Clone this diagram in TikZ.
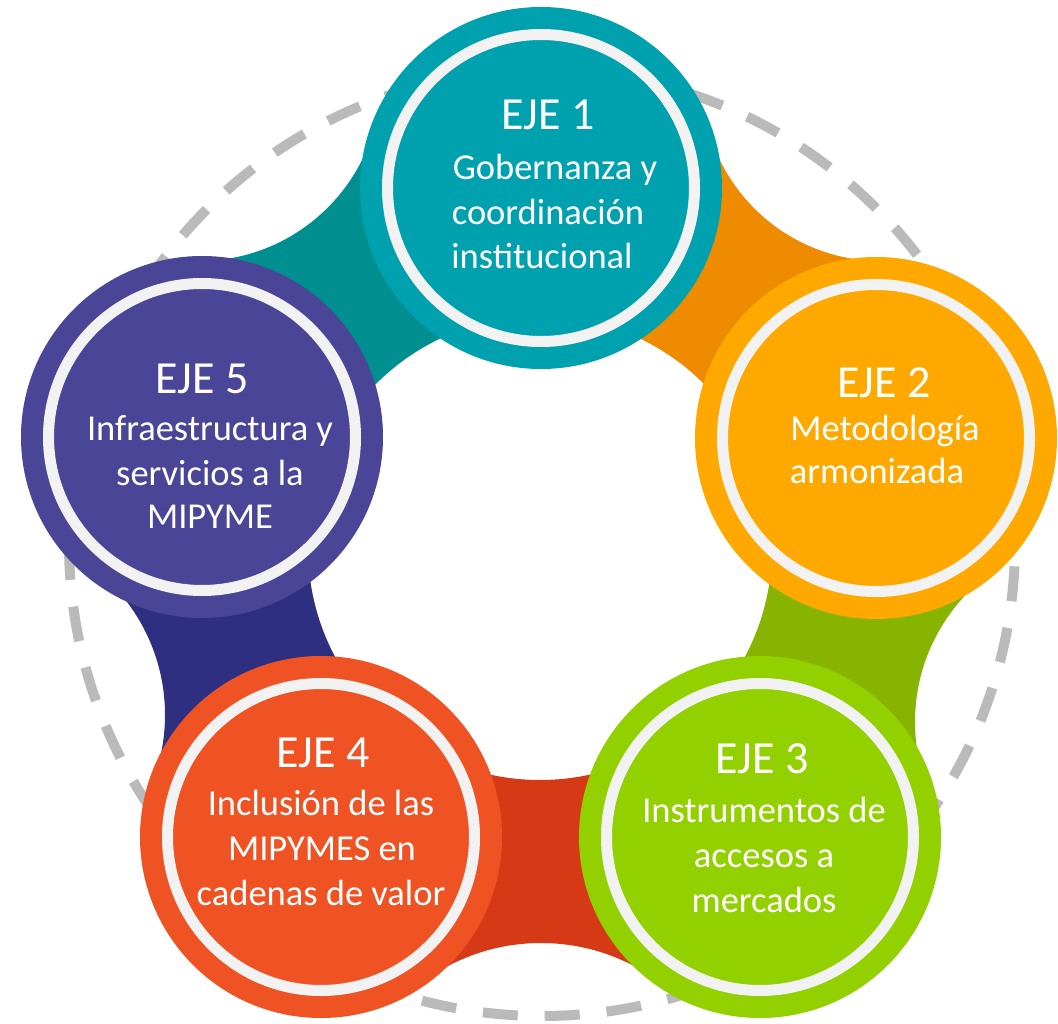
\documentclass[tikz,border=0pt]{standalone}
\usepackage{fontspec}
\setmainfont{Carlito}
\definecolor{cA}{HTML}{00A1AE}
\definecolor{cB}{HTML}{FFA800}
\definecolor{cC}{HTML}{92D000}
\definecolor{cD}{HTML}{F05323}
\definecolor{cE}{HTML}{4A4597}
\definecolor{bEA}{HTML}{008F91}
\definecolor{bAB}{HTML}{EE8B00}
\definecolor{bBC}{HTML}{86B400}
\definecolor{bCD}{HTML}{D63915}
\definecolor{bDE}{HTML}{2F2F82}
\definecolor{ringc}{HTML}{F2F2F2}
\definecolor{dashc}{HTML}{BABABA}
\begin{document}
\begin{tikzpicture}[x=1pt,y=-1pt,
  ejecircle/.style={circle,minimum size=362pt,inner sep=0pt,draw=none},
  ringline/.style={draw=ringc,line width=11pt},
  dashcirc/.style={draw=dashc,line width=10pt,dash pattern=on 35pt off 27pt},
  titletext/.style={anchor=base,inner sep=0pt,text=white,font=\fontsize{46}{55}\selectfont},
  bodytext/.style={anchor=base,inner sep=0pt,text=white,font=\fontsize{36.5}{44}\selectfont}]
\useasboundingbox (0,0) rectangle (1058,1024);
\fill[white] (0,0) rectangle (1058,1024);
% centres
\coordinate (O) at (540,548);
\coordinate (dc) at (542,543);
\coordinate (p1) at (541,188);
\coordinate (p2) at (876,438);
\coordinate (p3) at (760,837);
\coordinate (p4) at (321,837);
\coordinate (p5) at (202,437);
\coordinate (k12) at (881,82);
\coordinate (k23) at (1100,722);
\coordinate (k34) at (541,1142);
\coordinate (k45) at (-22,715);
\coordinate (k51) at (199,79);
% dashed ring
\draw[dashcirc] (dc) circle[radius=473pt];
% connecting bands
\begin{scope}[even odd rule]
  \clip (-700,-700) rectangle (1800,1800)
    (O) circle[radius=232pt]
    (k12) circle[radius=179pt]
    (k23) circle[radius=185pt]
    (k34) circle[radius=199pt]
    (k45) circle[radius=187pt]
    (k51) circle[radius=182pt];
  \fill[bAB] (O) -- (p1) -- (k12) -- (p2) -- cycle;
  \fill[bBC] (O) -- (p2) -- (k23) -- (p3) -- cycle;
  \fill[bCD] (O) -- (p3) -- (k34) -- (p4) -- cycle;
  \fill[bDE] (O) -- (p4) -- (k45) -- (p5) -- cycle;
  \fill[bEA] (O) -- (p5) -- (k51) -- (p1) -- cycle;
\end{scope}
% circles
\node[ejecircle,fill=cA] (e1) at (p1) {};
\node[ejecircle,fill=cB] (e2) at (p2) {};
\node[ejecircle,fill=cC] (e3) at (p3) {};
\node[ejecircle,fill=cD] (e4) at (p4) {};
\node[ejecircle,fill=cE] (e5) at (p5) {};
\draw[ringline] (e1.center) circle[radius=153.5pt];
\draw[ringline] (e2.center) circle[radius=153.5pt];
\draw[ringline] (e3.center) circle[radius=153.5pt];
\draw[ringline] (e4.center) circle[radius=153.5pt];
\draw[ringline] (e5.center) circle[radius=153.5pt];
% texts
\node[titletext] (t1) at (548,130) {EJE 1};
\node[bodytext] (t1a) at (555,180) {Gobernanza y};
\node[bodytext] (t1b) at (548,224.5) {coordinación};
\node[bodytext] (t1c) at (542,269) {institucional};
\node[titletext] (t2) at (884,397) {EJE 2};
\node[bodytext] (t2a) at (885,440) {Metodología};
\node[bodytext] (t2b) at (877,483) {armonizada};
\node[titletext] (t3) at (762,773) {EJE 3};
\node[bodytext] (t3a) at (764,822) {Instrumentos de};
\node[bodytext] (t3b) at (764,867) {accesos a};
\node[bodytext] (t3c) at (764,912) {mercados};
\node[titletext] (t4) at (323,767) {EJE 4};
\node[bodytext] (t4a) at (321,815) {Inclusión de las};
\node[bodytext] (t4b) at (322,860) {MIPYMES en};
\node[bodytext] (t4c) at (321,905) {cadenas de valor};
\node[titletext] (t5) at (202,393) {EJE 5};
\node[bodytext] (t5a) at (210,440) {Infraestructura y};
\node[bodytext] (t5b) at (210,485) {servicios a la};
\node[bodytext] (t5c) at (210,528) {MIPYME};
\end{tikzpicture}
\end{document}
